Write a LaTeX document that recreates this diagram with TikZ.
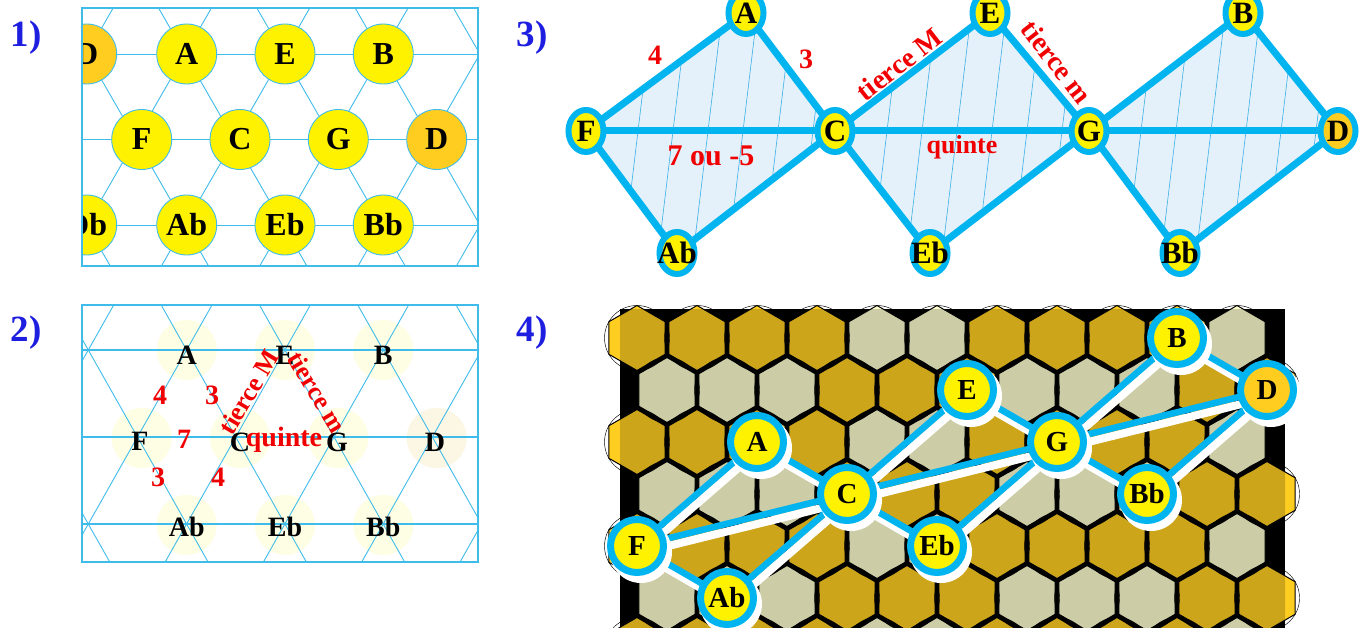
\documentclass[tikz,border=0pt]{standalone}
\usepackage{fontspec}
\usepackage{graphicx}
\setmainfont{Liberation Serif}
\usetikzlibrary{calc,shapes.geometric}
\pgfdeclarelayer{bg}
\pgfdeclarelayer{mid}
\pgfsetlayers{bg,mid,main}
\definecolor{lineblue}{RGB}{64,188,235}
\definecolor{nodeblue}{RGB}{0,180,240}
\definecolor{dorange}{RGB}{255,205,32}
\definecolor{lblue}{RGB}{30,30,225}
\definecolor{lred}{RGB}{240,0,0}
\definecolor{dfill}{RGB}{228,241,250}
\definecolor{hatch}{RGB}{60,175,230}
\definecolor{hg}{RGB}{255,206,33}
\definecolor{hb}{RGB}{255,255,208}
\definecolor{dg}{RGB}{205,165,26}
\definecolor{db}{RGB}{204,204,166}
\definecolor{faint}{RGB}{254,254,228}
\definecolor{faintd}{RGB}{252,246,228}
\colorlet{hexc0}{hg}\colorlet{hexc1}{hb}\colorlet{hexc2}{hg}\colorlet{hexc3}{hb}
\colorlet{hexc4}{hg}\colorlet{hexc5}{hg}\colorlet{hexc6}{hb}\colorlet{hexc7}{hg}
\colorlet{hexc8}{hb}\colorlet{hexc9}{hg}\colorlet{hexc10}{hb}\colorlet{hexc11}{hg}
\colorlet{hexd0}{dg}\colorlet{hexd1}{db}\colorlet{hexd2}{dg}\colorlet{hexd3}{db}
\colorlet{hexd4}{dg}\colorlet{hexd5}{dg}\colorlet{hexd6}{db}\colorlet{hexd7}{dg}
\colorlet{hexd8}{db}\colorlet{hexd9}{dg}\colorlet{hexd10}{db}\colorlet{hexd11}{dg}
\begin{document}
\begin{tikzpicture}[x=1pt,y=-1pt,
  gridline/.style={draw=lineblue, line width=0.9pt},
  p1node/.style={circle, minimum size=60pt, inner sep=0pt, fill=yellow, draw=lineblue, line width=0.9pt, font=\fontsize{32}{32}\selectfont\bfseries},
  p2circ/.style={circle, minimum size=60pt, inner sep=0pt, fill=faint},
  p2text/.style={inner sep=0pt, font=\fontsize{28}{28}\selectfont\bfseries},
  redlab/.style={inner sep=0pt, text=lred, font=\fontsize{28}{28}\selectfont\bfseries},
  plabel/.style={inner sep=0pt, text=lblue, font=\fontsize{37}{37}\selectfont\bfseries},
  p3node/.style={ellipse, minimum width=35pt, minimum height=42pt, inner sep=0pt, fill=yellow, draw=nodeblue, line width=6pt, font=\fontsize{31}{31}\selectfont\bfseries},
  p3edge/.style={draw=nodeblue, line width=7pt, line join=round},
  hatchline/.style={draw=hatch, line width=0.6pt},
  hexcell/.style={draw=black, line width=1pt, line join=round},
  hexring/.style={draw=black, line width=0.45pt},
  p4node/.style={circle, minimum size=53pt, inner sep=0pt, fill=yellow, draw=nodeblue, line width=7pt, font=\fontsize{29}{29}\selectfont\bfseries},
  p4edge/.style={draw=nodeblue, line width=6.5pt},
  p4shadow/.style={draw=white, line width=8pt},
]
\useasboundingbox (0,0) rectangle (1362,628);
\begin{pgfonlayer}{bg}
\fill[white] (0,0) rectangle (1362,628);
\end{pgfonlayer}

% panel labels
\node[plabel] (l1) at (26,38) {1)};
\node[plabel] (l2) at (26,333) {2)};
\node[plabel] (l3) at (532,38) {3)};
\node[plabel] (l4) at (532,333) {4)};

% ---------- panel 1 ----------
\begin{pgfonlayer}{bg}
\begin{scope}
\clip (82,8) rectangle (478,266);
\foreach \y in {54,139.5,225} \draw[gridline] (82,\y) -- (478,\y);
\foreach \k in {-1,...,5}{
  \pgfmathsetmacro\xo{86.7+98.3*\k}
  \draw[gridline] (\xo-98.3,-117) -- (\xo+196.6,396);
  \draw[gridline] (\xo+98.3,-117) -- (\xo-196.6,396);
}
\end{scope}
\end{pgfonlayer}
\begin{scope}
\clip (82,8) rectangle (478,266);
\node[p1node, fill=dorange] (D1a) at (86.7,54) {D};
\node[p1node] (A1) at (186.7,54) {A};
\node[p1node] (E1) at (285,54) {E};
\node[p1node] (B1) at (383.3,54) {B};
\node[p1node] (F1) at (141.7,139.5) {F};
\node[p1node] (C1) at (240,139.5) {C};
\node[p1node] (G1) at (338.3,139.5) {G};
\node[p1node, fill=dorange] (D1b) at (436.7,139.5) {D};
\node[p1node] (Db1) at (86.7,225) {Db};
\node[p1node] (Ab1) at (186.7,225) {Ab};
\node[p1node] (Eb1) at (285,225) {Eb};
\node[p1node] (Bb1) at (383.3,225) {Bb};
\end{scope}
\draw[draw=lineblue, line width=1.3pt] (82,8) rectangle (478,266);

% ---------- panel 2 ----------
\begin{pgfonlayer}{bg}
\node[p2circ] (cA2) at (186.7,350) {};
\node[p2circ] (cE2) at (285,350) {};
\node[p2circ] (cB2) at (383.3,350) {};
\node[p2circ] (cF2) at (141.7,438) {};
\node[p2circ] (cC2) at (240,438) {};
\node[p2circ] (cG2) at (338.3,438) {};
\node[p2circ, fill=faintd] (cD2) at (436.7,438) {};
\node[p2circ] (cAb2) at (186.7,525) {};
\node[p2circ] (cEb2) at (285,525) {};
\node[p2circ] (cBb2) at (383.3,525) {};
\end{pgfonlayer}
\begin{pgfonlayer}{mid}
\begin{scope}
\clip (82,305) rectangle (478,562);
\foreach \y in {350,437,524} \draw[gridline, line width=1.3pt] (82,\y) -- (478,\y);
\foreach \k in {-1,...,5}{
  \pgfmathsetmacro\xo{88.3+98.3*\k}
  \draw[gridline] (\xo-98.3,176) -- (\xo+196.6,698);
  \draw[gridline] (\xo+98.3,176) -- (\xo-196.6,698);
}
\end{scope}
\draw[draw=lineblue, line width=1.3pt] (82,305) rectangle (478,562);
\end{pgfonlayer}
\node[p2text] (tA2) at (186.7,355) {A};
\node[p2text] (tE2) at (285,355) {E};
\node[p2text] (tB2) at (383.3,355) {B};
\node[p2text] (tF2) at (140,441) {F};
\node[p2text] (tC2) at (240,442) {C};
\node[p2text] (tG2) at (337,442) {G};
\node[p2text] (tD2) at (435,442) {D};
\node[p2text] (tAb2) at (186.7,527) {Ab};
\node[p2text] (tEb2) at (285,527) {Eb};
\node[p2text] (tBb2) at (383.3,527) {Bb};
\node[redlab] (r2a) at (160,395) {4};
\node[redlab] (r2b) at (212,395) {3};
\node[redlab] (r2c) at (184,439) {7};
\node[redlab] (r2d) at (158,477) {3};
\node[redlab] (r2e) at (218,477) {4};
\node[redlab, rotate=59, font=\fontsize{26}{26}\selectfont\bfseries] (r2f) at (249,392) {tierce M};
\node[redlab, rotate=-59, font=\fontsize{26}{26}\selectfont\bfseries] (r2g) at (317,392) {tierce m};
\node[redlab] (r2h) at (284,440) {quinte};

% ---------- panel 3 ----------
\node[p3node] (A3) at (746,13) {\makebox[0pt]{A}};
\node[p3node] (E3) at (990,13) {\makebox[0pt]{E}};
\node[p3node] (B3) at (1243,13) {\makebox[0pt]{B}};
\node[p3node] (F3) at (586,131) {\makebox[0pt]{F}};
\node[p3node] (C3) at (835,131) {\makebox[0pt]{C}};
\node[p3node] (G3) at (1089,131) {\makebox[0pt]{G}};
\node[p3node, fill=dorange] (D3) at (1338,131) {\makebox[0pt]{D}};
\node[p3node] (Ab3) at (677,253) {\makebox[0pt]{Ab}};
\node[p3node] (Eb3) at (930,253) {\makebox[0pt]{Eb}};
\node[p3node] (Bb3) at (1180,253) {\makebox[0pt]{Bb}};
\begin{pgfonlayer}{mid}
\foreach \l/\t/\r/\b in {F3/A3/C3/Ab3, C3/E3/G3/Eb3, G3/B3/D3/Bb3}{
  \fill[dfill] (\l.center) -- (\t.center) -- (\r.center) -- (\b.center) -- cycle;
  \begin{scope}
  \clip (\l.center) -- (\t.center) -- (\r.center) -- (\b.center) -- cycle;
  \foreach \i in {0,...,8}
    \draw[hatchline] ($(\l.center)+(35+35*\i,-150)$) -- ++(-36,300);
  \end{scope}
  \draw[p3edge] (\l.center) -- (\t.center) -- (\r.center) -- (\b.center) -- cycle;
}
\draw[p3edge] (F3.center) -- (C3.center) -- (G3.center) -- (D3.center);
\end{pgfonlayer}
\node[redlab] (r3a) at (655,55) {4};
\node[redlab] (r3b) at (806,59) {3};
\node[redlab, rotate=38] (r3c) at (899,64) {tierce M};
\node[redlab, rotate=-52] (r3d) at (1057,62) {tierce m};
\node[redlab, font=\fontsize{30}{30}\selectfont\bfseries] (r3e) at (711,156) {7 ou -5};
\node[redlab, font=\fontsize{26}{26}\selectfont\bfseries] (r3f) at (962,147) {quinte};

% ---------- panel 4 ----------
\node[p4node] (F4) at (637,546) {F};
\node[p4node] (Ab4) at (727,598) {Ab};
\node[p4node] (A4) at (757,442) {A};
\node[p4node] (C4) at (847,494) {C};
\node[p4node] (Eb4) at (937,546) {Eb};
\node[p4node] (E4) at (967,390) {E};
\node[p4node] (G4) at (1057,442) {G};
\node[p4node] (Bb4) at (1147,494) {Bb};
\node[p4node] (B4) at (1177,338) {B};
\node[p4node, fill=dorange] (D4) at (1267,390) {D};
\begin{pgfonlayer}{bg}
\begin{scope}
\clip (0,298) rectangle (1362,628);
% bright cells (seen outside the black board)
\foreach \r in {0,...,6}{
  \foreach \c in {0,...,10}{
    \pgfmathsetmacro\hx{637+60*\c+30*mod(\r,2)}
    \pgfmathsetmacro\hy{338+52*\r}
    \pgfmathtruncatemacro\p{mod(round((\hx-847)/30)+24,12)}
    \draw[hexcell, fill=hexc\p] (\hx,\hy) +(90:32.5) -- +(150:32.5) -- +(210:32.5) -- +(270:32.5) -- +(330:32.5) -- +(30:32.5) -- cycle;
  }
}
\fill[black] (620,309) rectangle (1285,640);
\begin{scope}
\clip (620,309) rectangle (1285,640);
\foreach \r in {0,...,6}{
  \foreach \c in {0,...,10}{
    \pgfmathsetmacro\hx{637+60*\c+30*mod(\r,2)}
    \pgfmathsetmacro\hy{338+52*\r}
    \pgfmathtruncatemacro\p{mod(round((\hx-847)/30)+24,12)}
    \draw[hexcell, fill=hexd\p] (\hx,\hy) +(90:32.5) -- +(150:32.5) -- +(210:32.5) -- +(270:32.5) -- +(330:32.5) -- +(30:32.5) -- cycle;
  }
}
\end{scope}
\foreach \r in {0,...,6}{
  \foreach \c in {0,...,10}{
    \pgfmathsetmacro\hx{637+60*\c+30*mod(\r,2)}
    \pgfmathsetmacro\hy{338+52*\r}
    \draw[hexring] (\hx,\hy) circle[radius=32.5];
  }
}
\end{scope}
\end{pgfonlayer}
\begin{pgfonlayer}{mid}
\foreach \u/\v in {F4/A4, F4/C4, F4/Ab4, A4/C4, Ab4/C4, C4/E4, C4/G4, C4/Eb4, Eb4/G4, E4/G4, G4/B4, G4/D4, G4/Bb4, B4/D4, Bb4/D4}
  \draw[p4shadow] ($(\u.center)+(3,7)$) -- ($(\v.center)+(3,7)$);
\foreach \u/\v in {F4/A4, F4/C4, F4/Ab4, A4/C4, Ab4/C4, C4/E4, C4/G4, C4/Eb4, Eb4/G4, E4/G4, G4/B4, G4/D4, G4/Bb4, B4/D4, Bb4/D4}
  \draw[p4edge] (\u.center) -- (\v.center);
\foreach \n in {F4,Ab4,A4,C4,Eb4,E4,G4,Bb4,B4,D4}
  \fill[white] ($(\n.center)+(4,6)$) circle[radius=31];
\end{pgfonlayer}
\end{tikzpicture}
\end{document}
